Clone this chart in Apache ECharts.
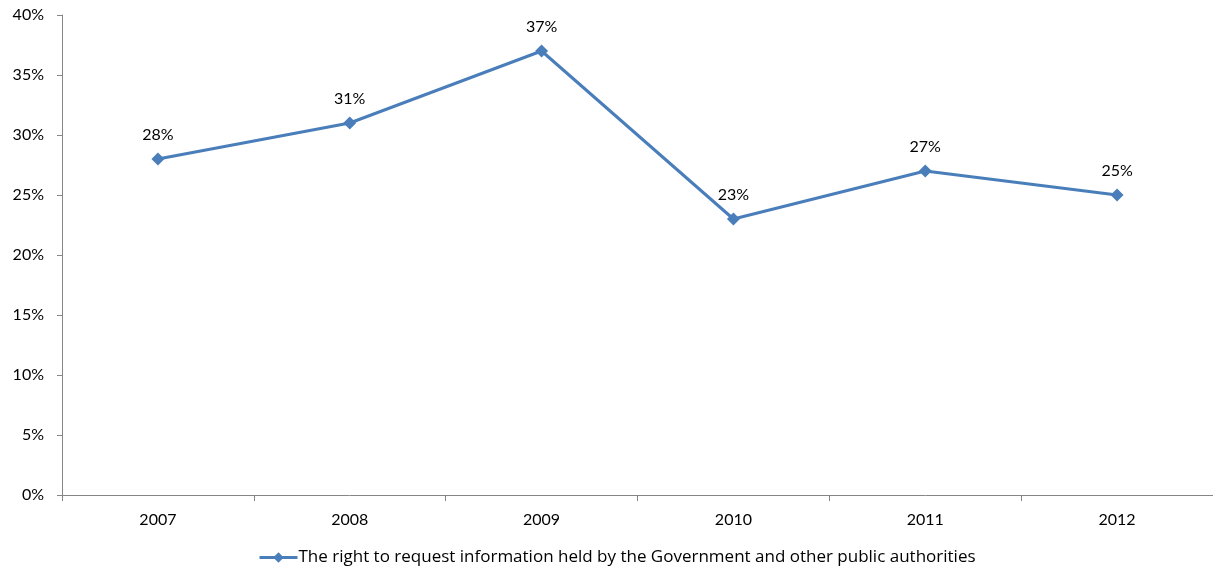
<!DOCTYPE html>
<html>
<head>
<meta charset="utf-8">
<script src="https://cdn.jsdelivr.net/npm/echarts@6/dist/echarts.min.js"></script>
<style>
  html, body { margin: 0; padding: 0; background: #fff; }
  #chart { width: 1213px; height: 572px; }
</style>
</head>
<body>
<div id="chart"></div>
<script>
// Survey years and the share of respondents aware of the right
const years = ['2007', '2008', '2009', '2010', '2011', '2012'];
const awareness = [28, 31, 37, 23, 27, 25];
const seriesName = 'The right to request information held by the Government and other public authorities';
const yMin = 0, yMax = 40, yStep = 5;

const FONT = 'Lato, "Open Sans", sans-serif';
const LEGEND_FONT = '"Open Sans", Lato, sans-serif';
const chart = echarts.init(document.getElementById('chart'), null, { renderer: 'canvas' });

chart.setOption({
  animation: false,
  backgroundColor: '#ffffff',
  textStyle: { fontFamily: FONT },
  grid: { left: 62, right: -1, top: 15, bottom: 77, containLabel: false },
  legend: {
    data: [seriesName],
    bottom: 1,
    left: 253,
    itemWidth: 38,
    itemHeight: 13,
    itemGap: 10,
    lineStyle: { width: 3 },
    textStyle: { fontFamily: LEGEND_FONT, fontSize: 17, color: '#000', padding: [0, 0, 0, -4] }
  },
  xAxis: {
    type: 'category',
    data: years,
    boundaryGap: true,
    axisLine: { lineStyle: { color: '#868686', width: 1 } },
    axisTick: { show: true, length: 6, alignWithLabel: false, lineStyle: { color: '#868686' } },
    axisLabel: { color: '#000', fontFamily: FONT, fontSize: 16, margin: 17 },
    splitLine: { show: false }
  },
  yAxis: {
    type: 'value',
    min: yMin,
    max: yMax,
    interval: yStep,
    axisLine: { show: true, lineStyle: { color: '#868686', width: 1 } },
    axisTick: { show: true, length: 5, lineStyle: { color: '#868686' } },
    axisLabel: { color: '#000', fontFamily: FONT, fontSize: 16, margin: 18, formatter: v => v + '%' },
    splitLine: { show: false }
  },
  series: [{
    name: seriesName,
    type: 'line',
    data: awareness,
    symbol: 'diamond',
    symbolSize: 13,
    itemStyle: { color: '#4a7ebb' },
    lineStyle: { color: '#4a7ebb', width: 3 },
    label: {
      show: true,
      position: 'top',
      distance: 10,
      color: '#000',
      fontFamily: FONT,
      fontSize: 16,
      formatter: p => p.value + '%'
    }
  }]
});
</script>
</body>
</html>
